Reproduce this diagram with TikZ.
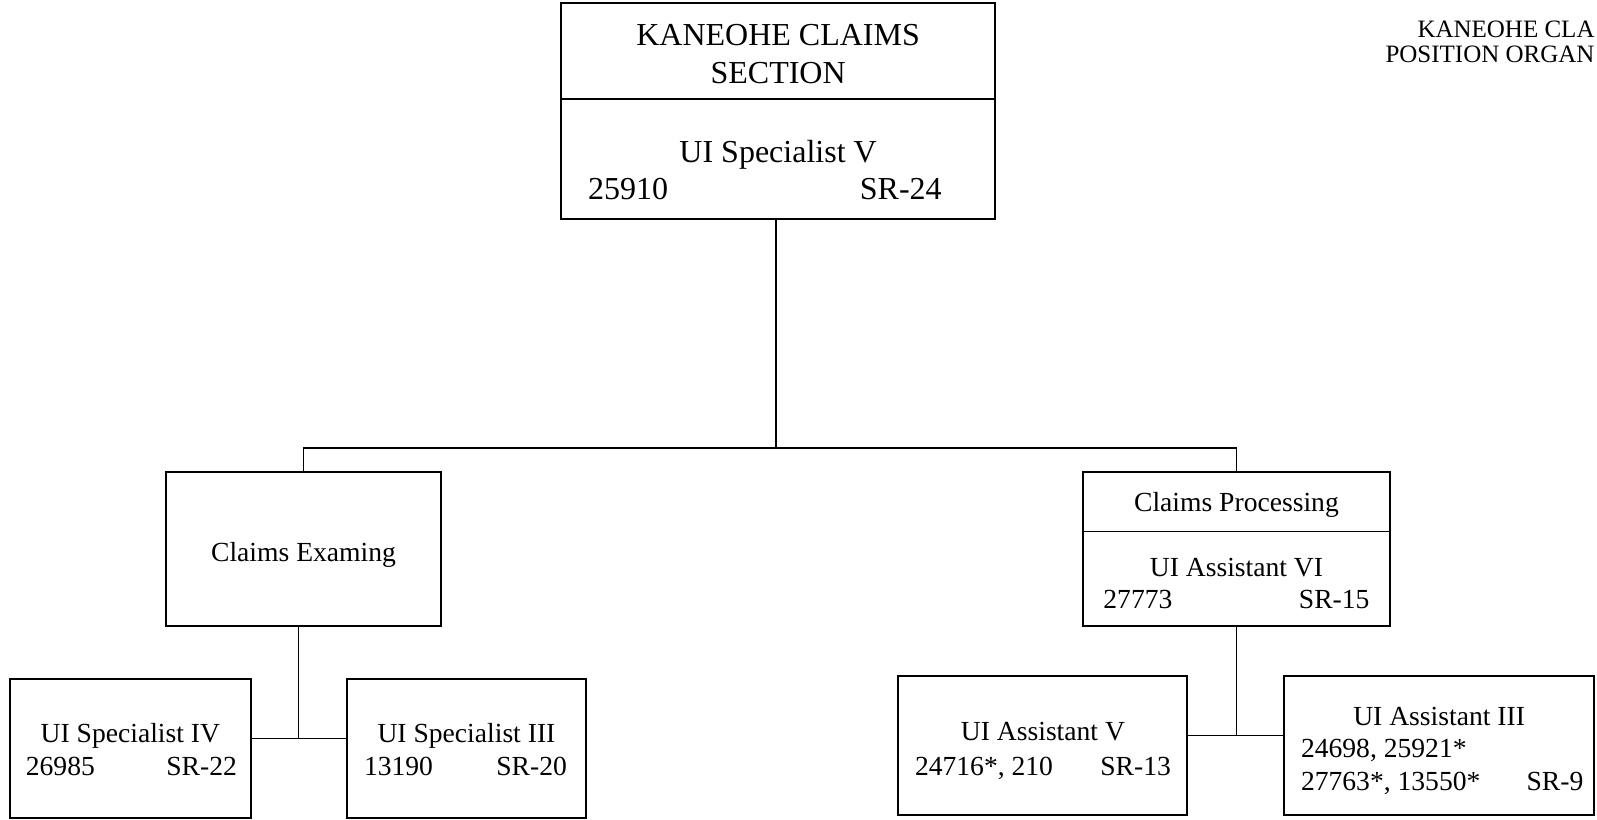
\documentclass[tikz,border=0pt]{standalone}
\usepackage{fontspec}
\setmainfont{Liberation Serif}
\begin{document}
\begin{tikzpicture}[x=0.50925pt,y=-0.50925pt,
  box/.style={draw=black,line width=1pt,rectangle,inner sep=0pt},
  ln/.style={draw=black,line width=0.8pt},
  big/.style={font=\fontsize{16}{19}\selectfont,inner sep=0pt},
  sm/.style={font=\fontsize{13.8}{16}\selectfont,inner sep=0pt},
  hd/.style={font=\fontsize{12.5}{15}\selectfont,inner sep=0pt}]
\useasboundingbox (0,0) rectangle (1568,805);
\fill[white] (0,0) rectangle (1568,805);

% boxes
\node[box,minimum width=426*0.50925pt,minimum height=212*0.50925pt] (top) at (764,109) {};
\node[box,minimum width=270*0.50925pt,minimum height=152*0.50925pt] (ce) at (298,539) {};
\node[box,minimum width=302*0.50925pt,minimum height=152*0.50925pt] (cp) at (1214,539) {};
\node[box,minimum width=236*0.50925pt,minimum height=136*0.50925pt] (s4) at (128,735) {};
\node[box,minimum width=234*0.50925pt,minimum height=136*0.50925pt] (s3) at (458,735) {};
\node[box,minimum width=283*0.50925pt,minimum height=136*0.50925pt] (a5) at (1023.5,732) {};
\node[box,minimum width=304*0.50925pt,minimum height=136*0.50925pt] (a3) at (1413,732) {};

% dividers
\coordinate (d1) at (0,97);
\draw[ln] (top.west |- d1) -- (top.east |- d1);
\coordinate (d2) at (0,522);
\draw[ln] (cp.west |- d2) -- (cp.east |- d2);

% texts
\node[big,anchor=base] (t1) at (764,45) {KANEOHE CLAIMS};
\node[big,anchor=base] (t2) at (764,81.5) {SECTION};
\node[big,anchor=base] (t3) at (764,160) {UI Specialist V};
\node[big,anchor=base west] (t4) at (577,196) {25910};
\node[big,anchor=base east] (t5) at (925,196) {SR-24};

\node[sm,anchor=base] (c1) at (298,551) {Claims Examing};

\node[sm,anchor=base] (p1) at (1214,502) {Claims Processing};
\node[sm,anchor=base] (p2) at (1214,566) {UI Assistant VI};
\node[sm,anchor=base west] (p3) at (1083,597) {27773};
\node[sm,anchor=base east] (p4) at (1345,597) {SR-15};

\node[sm,anchor=base] (u1) at (128,729) {UI Specialist IV};
\node[sm,anchor=base west] (u2) at (25,761) {26985};
\node[sm,anchor=base east] (u3) at (233,761) {SR-22};

\node[sm,anchor=base] (v1) at (458,729) {UI Specialist III};
\node[sm,anchor=base west] (v2) at (357,761) {13190};
\node[sm,anchor=base east] (v3) at (557,761) {SR-20};

\node[sm,anchor=base] (w1) at (1024,727) {UI Assistant V};
\node[sm,anchor=base west] (w2) at (898,761) {24716*, 210};
\node[sm,anchor=base east] (w3) at (1150,761) {SR-13};

\node[sm,anchor=base] (x1) at (1413,712) {UI Assistant III};
\node[sm,anchor=base west] (x2) at (1277,744) {24698, 25921*};
\node[sm,anchor=base west] (x3) at (1277,776) {27763*, 13550*};
\node[sm,anchor=base east] (x4) at (1555,776) {SR-9};

\node[hd,anchor=base east] (h1) at (1566,36.5) {KANEOHE CLA};
\node[hd,anchor=base east] (h2) at (1566,61.5) {POSITION ORGAN};

% connectors
\coordinate (bar) at (762,440);
\draw[ln] (top.south -| bar) -- (bar);
\draw[ln] (ce.north) |- (bar) -| (cp.north);

\coordinate (j1) at (293,725);
\draw[ln] (ce.south -| j1) -- (j1);
\draw[ln] (s4.east |- j1) -- (s3.west |- j1);

\coordinate (j2) at (1214,722);
\draw[ln] (cp.south -| j2) -- (j2);
\draw[ln] (a5.east |- j2) -- (a3.west |- j2);
\end{tikzpicture}
\end{document}
